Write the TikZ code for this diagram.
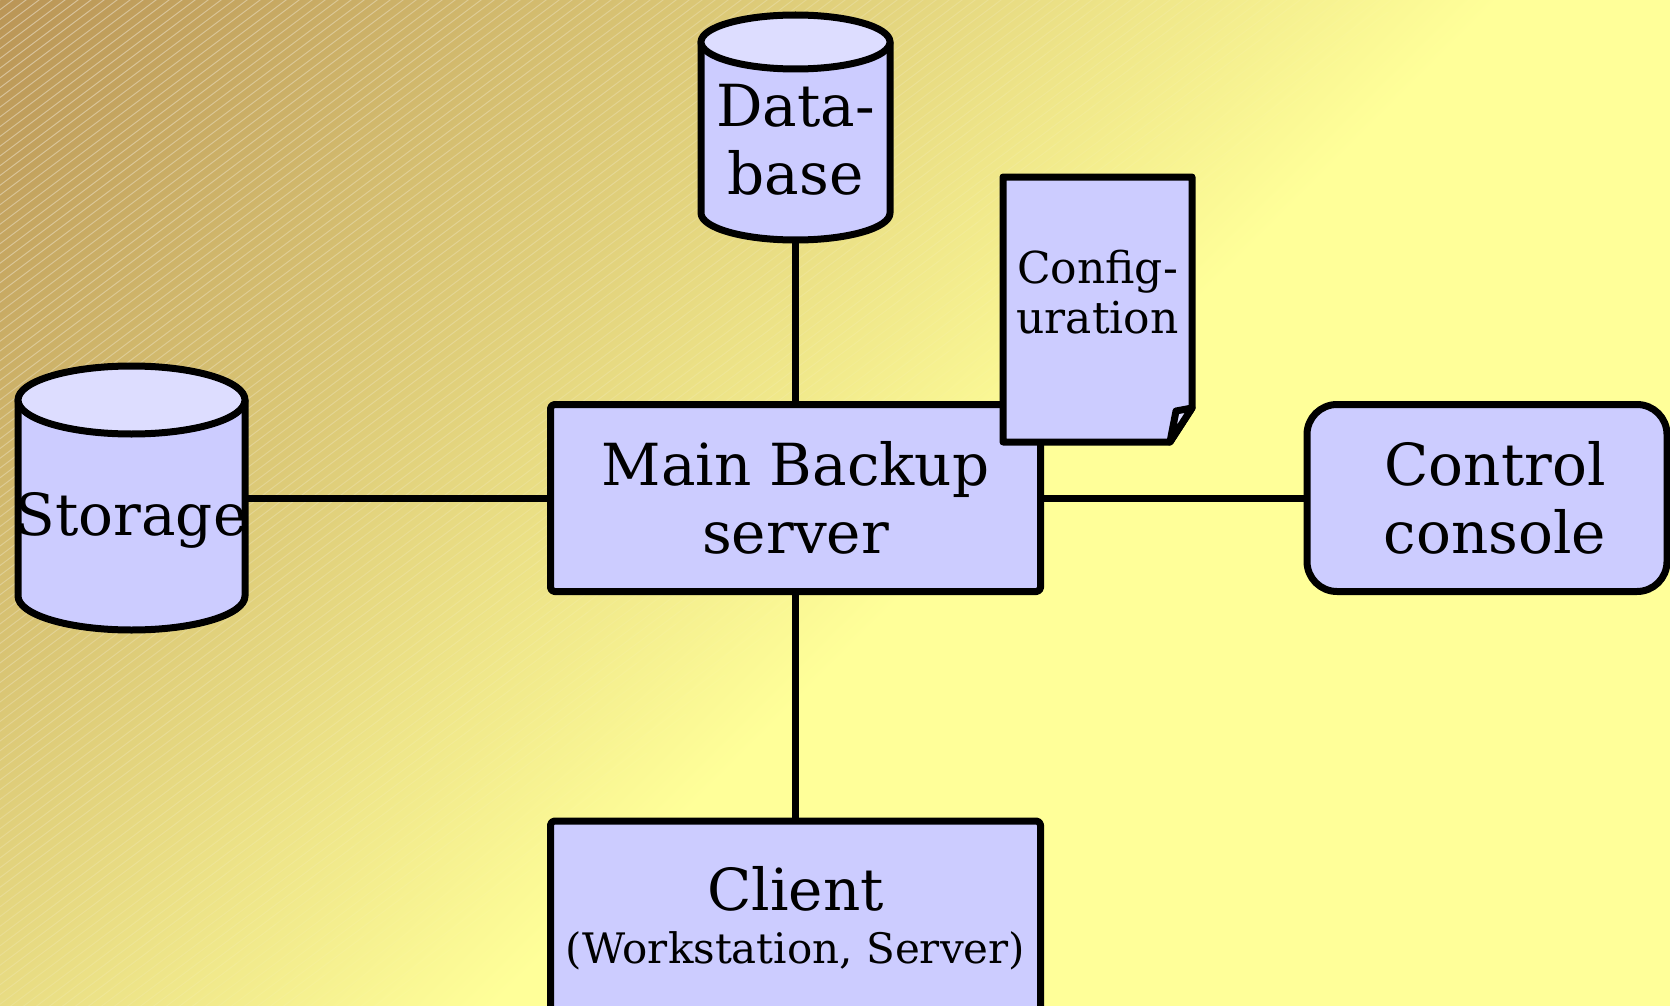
\documentclass[tikz,border=0pt]{standalone}
\usepackage{fontspec}
\setmainfont{DejaVu Serif}
\usetikzlibrary{positioning}
\definecolor{bgdark}{RGB}{186,149,86}
\definecolor{bglight}{RGB}{255,255,153}
\definecolor{bodyc}{RGB}{204,204,255}
\definecolor{topc}{RGB}{221,221,255}
\newcommand\bigf{\fontsize{58pt}{68pt}\selectfont}
\newcommand\midf{\fontsize{44pt}{50pt}\selectfont}
\newcommand\smallf{\fontsize{42pt}{50pt}\selectfont}
\tikzset{
  outline/.style={draw=black, line width=7pt, line join=round},
  boxnode/.style={outline, fill=bodyc, rectangle, rounded corners=4pt, inner sep=0pt},
  hitnode/.style={rectangle, inner sep=0pt, outer sep=0pt},
  lbl/.style={font=\bigf, align=center, inner sep=0pt},
  wire/.style={draw=black, line width=7pt},
  stripe/.style={draw=white, line width=1pt}
}
\begin{document}
\begin{tikzpicture}[x=1pt,y=1pt]
\useasboundingbox (0,0) rectangle (1670,-1006);
\begin{scope}
\clip (0,0) rectangle (1670,-1006);
% background
\fill[bglight] (0,0) rectangle (1670,-1006);
\begin{scope}[transform canvas={rotate=-45}]
  \shade[left color=bgdark, right color=bglight] (0,-2000) rectangle (1060.66,2000);
\end{scope}
\foreach \k in {0,...,14}{
  \pgfmathsetmacro\op{0.4*(1-(100*\k+50)/1500)}
  \pgfmathsetmacro\ba{100*\k}
  \pgfmathsetmacro\bb{100*\k+100}
  \draw[stripe, opacity=\op] \foreach \j in {0,...,142}{
    ({4*\ba-5*7.8*\j},{3*\ba-5*7.8*\j}) -- ({4*\bb-5*7.8*\j},{3*\bb-5*7.8*\j})
  };
}
% storage cylinder
\filldraw[outline, fill=bodyc] (18,-400) -- (18,-596)
  arc[start angle=180, end angle=360, x radius=113.5, y radius=34] -- (245,-400) -- cycle;
\filldraw[outline, fill=topc] (131.5,-400) ellipse[x radius=113.5, y radius=34];
\node[hitnode, minimum width=227pt, minimum height=264pt] (storage) at (131.5,-498) {};
\node[lbl, anchor=base] (storagelbl) at (131.5,-535) {Storage};
% database cylinder
\filldraw[outline, fill=bodyc] (701,-42) -- (701,-213)
  arc[start angle=180, end angle=360, x radius=94.5, y radius=27] -- (890,-42) -- cycle;
\filldraw[outline, fill=topc] (795.5,-42) ellipse[x radius=94.5, y radius=27];
\node[hitnode, minimum width=189pt, minimum height=225pt] (database) at (795.5,-127.5) {};
\node[lbl] (dblabel) at (795.5,-139.5) {Data-\\base};
% main backup server
\node[boxnode, minimum width=490pt, minimum height=187pt, lbl] (main) at (795.5,-498) {Main Backup\\server};
% client
\node[boxnode, minimum width=490pt, minimum height=259pt] (client) at (795.5,-950.5) {};
\node[lbl, anchor=base] (clientlbl) at (795.5,-910) {Client};
\node[font=\smallf, inner sep=0pt, anchor=base] (clientsub) at (795.5,-963) {(Workstation, Server)};
% control console
\node[boxnode, rounded corners=30pt, minimum width=360pt, minimum height=187pt] (console) at (1487,-498) {};
\node[lbl] (consolelbl) at (1495,-498) {Control\\console};
% connectors
\draw[wire] (database.south) -- (main.north);
\draw[wire] (storage.east) -- (main.west);
\draw[wire] (main.east) -- (console.west);
\draw[wire] (main.south) -- (client.north);
% configuration document
\filldraw[outline, fill=bodyc] (1003,-177) -- (1192,-177) -- (1192,-408) -- (1170,-442) -- (1003,-442) -- cycle;
\filldraw[outline, fill=topc] (1170,-442) -- (1176,-411) -- (1192,-408) -- cycle;
\node[font=\midf, align=center, inner sep=0pt] (configlbl) at (1097.5,-292.3) {Config-\\uration};
\end{scope}
\end{tikzpicture}
\end{document}
